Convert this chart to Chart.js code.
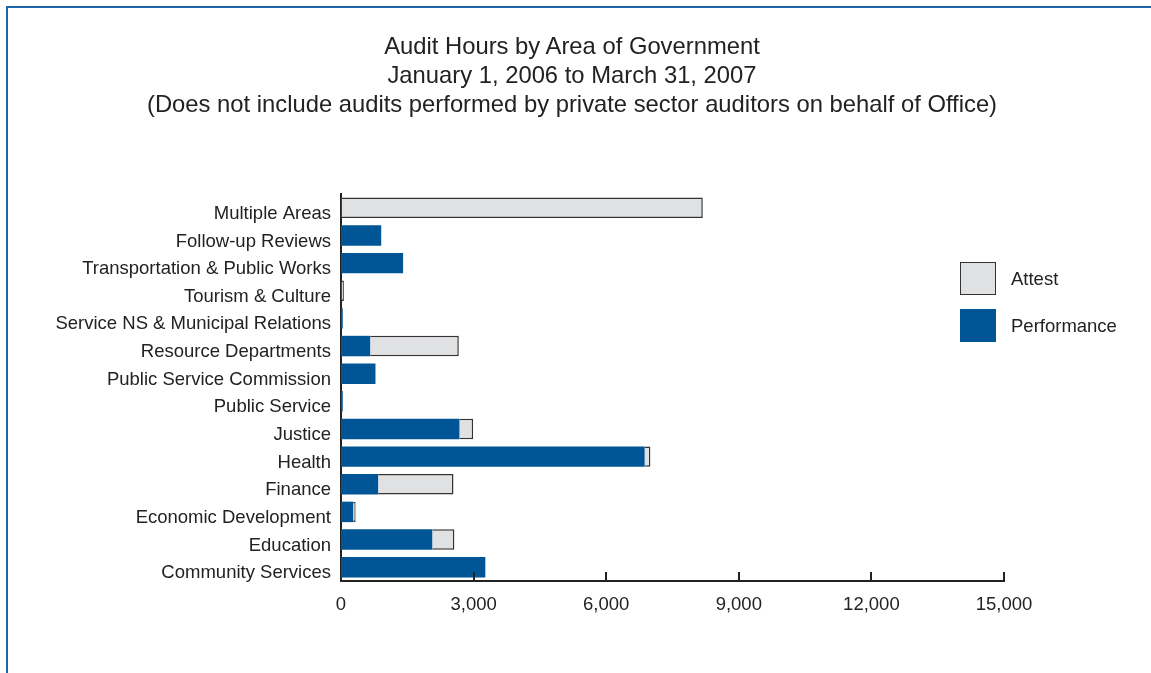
<!DOCTYPE html>
<html>
<head>
<meta charset="utf-8">
<script src="https://cdn.jsdelivr.net/npm/chart.js@4/dist/chart.umd.min.js"></script>
<style>
  html, body { margin: 0; padding: 0; background: #fff; }
  #wrap { position: relative; width: 1151px; height: 673px; overflow: hidden; }
  #grafico { position: absolute; left: 0; top: 0; }
  #frame { position: absolute; left: 6px; top: 6px; right: -10px; bottom: -10px;
           border-left: 2px solid #1f64a8; border-top: 2px solid #1f64a8; pointer-events: none; }
  #titulo { position: absolute; left: 0; width: 1144px; top: 31px; text-align: center;
            font-family: "Liberation Sans", Arial, sans-serif; font-size: 23.8px; line-height: 29px; color: #222; }
  #legend { position: absolute; left: 960px; top: 262px; font-family: "Liberation Sans", Arial, sans-serif;
            font-size: 18.5px; color: #222; }
  .item { display: flex; align-items: center; height: 33px; margin-bottom: 14px; }
  .box { width: 36px; height: 33px; box-sizing: border-box; margin-right: 15px; }
</style>
</head>
<body>
<div id="wrap">
  <canvas id="grafico" width="1151" height="673"></canvas>
  <div id="titulo"></div>
  <div id="frame"></div>
  <div id="legend"></div>
</div>
<script>
// Areas listed top to bottom as they appear on the axis
const areas = [
  'Multiple Areas', 'Follow-up Reviews', 'Transportation & Public Works', 'Tourism & Culture',
  'Service NS & Municipal Relations', 'Resource Departments', 'Public Service Commission',
  'Public Service', 'Justice', 'Health', 'Finance', 'Economic Development', 'Education',
  'Community Services'
];
const performance = [20, 910, 1405, 10, 40, 660, 780, 40, 2680, 6870, 840, 275, 2065, 3265];
const attest      = [8165, 0, 0, 55, 0, 2005, 0, 0, 310, 130, 1705, 55, 500, 0];
const hourTicks = [0, 3000, 6000, 9000, 12000, 15000];
const titleLines = [
  'Audit Hours by Area of Government',
  'January 1, 2006 to March 31, 2007',
  '(Does not include audits performed by private sector auditors on behalf of Office)'
];

const AZUL = '#005596';
const GRIS = '#e0e1e3';
const fuente = '"Liberation Sans", Arial, sans-serif';

document.getElementById('titulo').innerHTML = titleLines.join('<br>');

// small tick marks pointing up from the x axis
const marcasX = {
  id: 'marcasX',
  afterDatasetsDraw(chart) {
    const { ctx, scales: { x }, chartArea } = chart;
    ctx.save();
    ctx.strokeStyle = '#222';
    ctx.lineWidth = 2;
    hourTicks.slice(1).forEach(v => {
      const px = Math.round(x.getPixelForValue(v));
      ctx.beginPath();
      ctx.moveTo(px, chartArea.bottom);
      ctx.lineTo(px, chartArea.bottom - 9);
      ctx.stroke();
    });
    ctx.restore();
  }
};

const chart = new Chart(document.getElementById('grafico'), {
  type: 'bar',
  data: {
    labels: areas,
    datasets: [
      { label: 'Performance', data: performance, backgroundColor: AZUL, borderWidth: 0 },
      { label: 'Attest', data: attest, backgroundColor: GRIS, borderColor: '#333', borderWidth: 1.5 }
    ]
  },
  options: {
    indexAxis: 'y',
    responsive: false,
    animation: false,
    layout: { padding: { top: 194, right: 147, bottom: 0, left: 0 } },
    datasets: { bar: { barPercentage: 0.74, categoryPercentage: 1 } },
    plugins: {
      legend: { display: false },
      tooltip: { enabled: false },
      title: { display: false }
    },
    scales: {
      x: {
        stacked: true,
        min: 0,
        max: 15000,
        afterBuildTicks: s => { s.ticks = hourTicks.map(v => ({ value: v })); },
        grid: { display: false },
        border: { display: true, color: '#222', width: 2 },
        ticks: { color: '#222', font: { family: fuente, size: 18.5 }, padding: 5 },
        afterFit: s => { s.height = 92; }
      },
      y: {
        stacked: true,
        grid: { display: false },
        border: { display: true, color: '#222', width: 2 },
        ticks: { color: '#222', font: { family: fuente, size: 18.5 }, padding: 2, labelOffset: 6 },
        afterFit: s => { s.width = 341; }
      }
    }
  },
  plugins: [marcasX]
});

// legend beside the bars: Attest first, then Performance
const leyenda = document.getElementById('legend');
[chart.data.datasets[1], chart.data.datasets[0]].forEach(ds => {
  const fila = document.createElement('div');
  fila.className = 'item';
  const caja = document.createElement('div');
  caja.className = 'box';
  caja.style.background = ds.backgroundColor;
  if (ds.borderWidth) caja.style.border = '1.5px solid #333';
  const txt = document.createElement('span');
  txt.textContent = ds.label;
  fila.appendChild(caja);
  fila.appendChild(txt);
  leyenda.appendChild(fila);
});
</script>
</body>
</html>
